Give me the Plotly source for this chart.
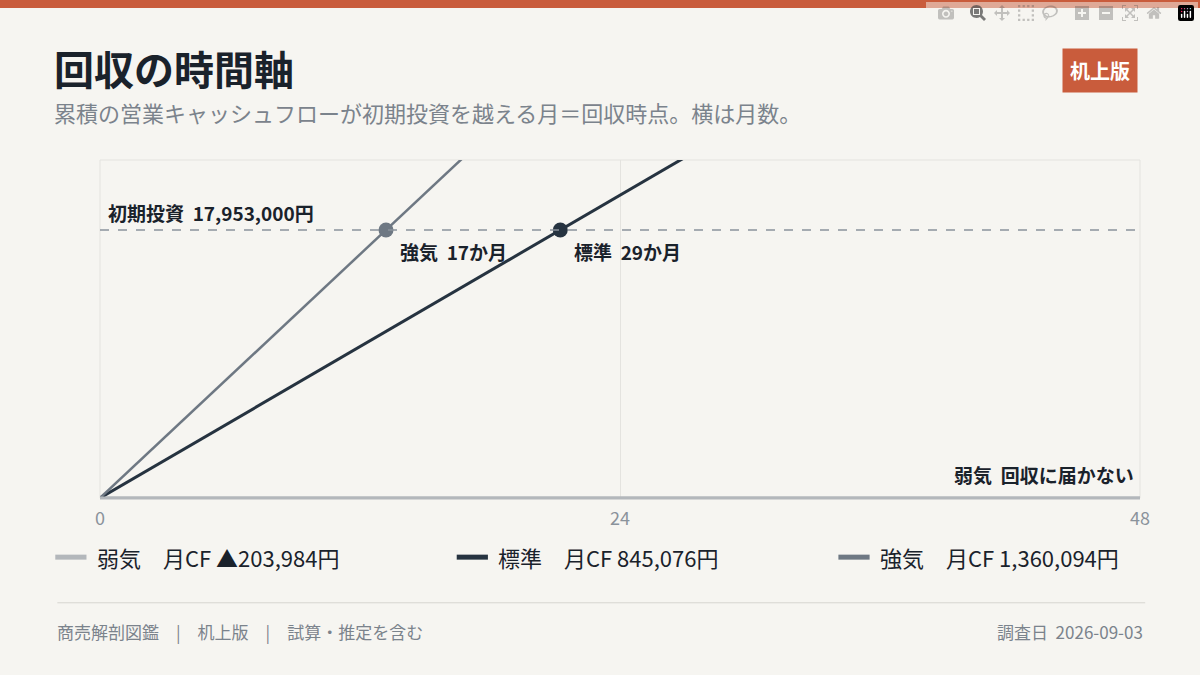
import plotly.graph_objects as go

months = list(range(0, 49))
scenarios = ["弱気", "標準", "強気"]
monthly_cf = [-203984, 845076, 1360094]
colors = ["#b3b7bb", "#263340", "#6e7883"]
widths = [3, 3, 2.5]
investment = 17953000
payback_labels = {"標準": "標準  29か月", "強気": "強気  17か月"}
legend_texts = ["弱気　月CF ▲203,984円", "標準　月CF 845,076円", "強気　月CF 1,360,094円"]
FONT = "Noto Sans CJK JP"

fig = go.Figure()
for name, cf, c, w in zip(scenarios, monthly_cf, colors, widths):
    ys = [max(0, cf * m) for m in months]
    fig.add_trace(go.Scatter(x=months, y=ys, mode="lines", line=dict(color=c, width=w),
                             showlegend=False, hoverinfo="skip"))

fig.add_hline(y=investment, line=dict(color="#8a939c", width=1.5, dash="dash"))
fig.add_annotation(x=0, y=investment, xref="x", yref="y", text="<b>初期投資  17,953,000円</b>",
                   showarrow=False, xanchor="left", yanchor="bottom", xshift=6, yshift=2,
                   font=dict(family=FONT, size=19, color="#1a222b"))
for name, cf, c in zip(scenarios, monthly_cf, colors):
    if cf > 0:
        m = investment / cf
        fig.add_trace(go.Scatter(x=[m], y=[investment], mode="markers",
                                 marker=dict(color=c, size=15), showlegend=False, hoverinfo="skip"))
        fig.add_annotation(x=m, y=investment, text="<b>" + payback_labels[name] + "</b>", showarrow=False,
                           xanchor="left", yanchor="top", xshift=12, yshift=-6,
                           font=dict(family=FONT, size=19, color="#1a222b"))
fig.add_annotation(x=48, y=0, text="<b>弱気  回収に届かない</b>", showarrow=False, xanchor="right",
                   yanchor="bottom", xshift=-4, yshift=8, font=dict(family=FONT, size=19, color="#1a222b"))

fig.update_xaxes(range=[0, 48], tickvals=[0, 24, 48], showgrid=True, gridcolor="#e4e3df",
                 zeroline=False, showline=False, ticks="", ticklabelstandoff=8,
                 tickfont=dict(family=FONT, size=18, color="#8a929b"))
fig.update_yaxes(range=[0, 22640000], showticklabels=False, showgrid=False, zeroline=False,
                 showline=False)
fig.add_shape(type="rect", xref="paper", yref="paper", x0=0, x1=1, y0=0, y1=1,
              line=dict(color="#e4e3df", width=1), layer="below")
fig.add_shape(type="line", xref="paper", yref="paper", x0=0, x1=1, y0=0, y1=0,
              line=dict(color="#b3b7bb", width=3))

# header
fig.add_shape(type="rect", xref="paper", yref="paper", x0=-0.2, x1=1.2, y0=1.45, y1=1.6,
              fillcolor="#c95c3c", line_width=0)
fig.add_annotation(xref="paper", yref="paper", x=-0.046, y=1.272, text="<b>回収の時間軸</b>",
                   showarrow=False, xanchor="left", yanchor="middle",
                   font=dict(family=FONT, size=40, color="#1a222b"))
fig.add_annotation(xref="paper", yref="paper", x=-0.046, y=1.142, text="累積の営業キャッシュフローが初期投資を越える月＝回収時点。横は月数。",
                   showarrow=False, xanchor="left", yanchor="middle",
                   font=dict(family=FONT, size=22, color="#7b838c"))
fig.add_annotation(xref="paper", yref="paper", x=0.9615, y=1.266, text="<b>机上版</b>",
                   showarrow=False, xanchor="center", yanchor="middle", bgcolor="#c95c3c",
                   borderpad=7, font=dict(family=FONT, size=20, color="#ffffff"))

# legend
lx = [-0.043, 0.343, 0.71]
for t, c, x0 in zip(legend_texts, colors, lx):
    fig.add_shape(type="line", xref="paper", yref="paper", x0=x0, x1=x0 + 0.03, y0=-0.175, y1=-0.175,
                  line=dict(color=c, width=5))
    fig.add_annotation(xref="paper", yref="paper", x=x0 + 0.038, y=-0.175, text=t, showarrow=False,
                       xanchor="left", yanchor="middle", font=dict(family=FONT, size=22, color="#1a222b"))

# footer
fig.add_shape(type="line", xref="paper", yref="paper", x0=-0.041, x1=1.005, y0=-0.31, y1=-0.31,
              line=dict(color="#d6d5d1", width=1))
fig.add_annotation(xref="paper", yref="paper", x=-0.043, y=-0.396, text="商売解剖図鑑　|　机上版　|　試算・推定を含む",
                   showarrow=False, xanchor="left", yanchor="middle", font=dict(family=FONT, size=17, color="#7b838c"))
fig.add_annotation(xref="paper", yref="paper", x=1.005, y=-0.396, text="調査日  2026-09-03",
                   showarrow=False, xanchor="right", yanchor="middle", font=dict(family=FONT, size=17, color="#7b838c"))

fig.update_layout(width=1200, height=675, margin=dict(l=100, r=60, t=160, b=177),
                  paper_bgcolor="#f6f5f1", plot_bgcolor="#f6f5f1", font=dict(family=FONT))
fig.write_html("out.html", post_script="document.body.style.margin='0';document.body.style.background='#f6f5f1';")
